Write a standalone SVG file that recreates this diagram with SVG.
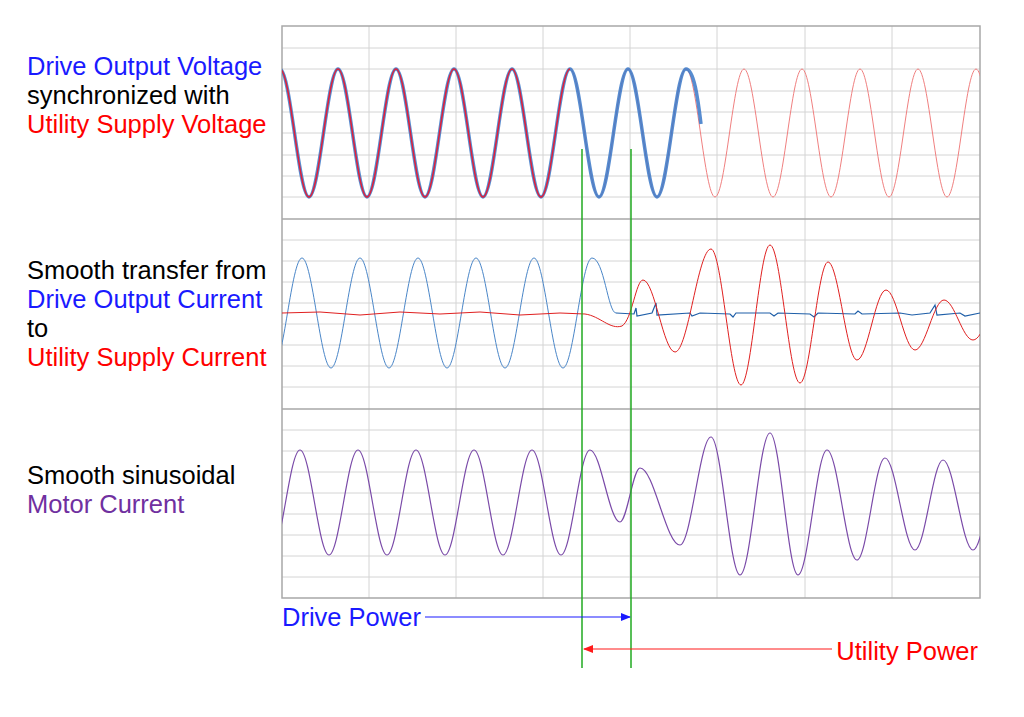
<svg xmlns="http://www.w3.org/2000/svg" width="1024" height="717" viewBox="0 0 1024 717">
<style>
.t{font-family:"Liberation Sans",Arial,sans-serif;font-size:25.5px}
.g{stroke:#d4d4d4;stroke-width:1;fill:none}
.b{stroke:#a8a8a8;stroke-width:1.5;fill:none}
</style>
<defs>
<clipPath id="c"><rect x="282" y="26" width="698" height="572"/></clipPath>
<marker id="ab" markerWidth="10" markerHeight="8" refX="9" refY="4" orient="auto" markerUnits="userSpaceOnUse"><path d="M0,0 L10,4 L0,8 z" fill="#1a1aff"/></marker>
<marker id="ar" markerWidth="10" markerHeight="8" refX="9" refY="4" orient="auto" markerUnits="userSpaceOnUse"><path d="M0,0 L10,4 L0,8 z" fill="#ff1a1a"/></marker>
</defs>
<rect width="1024" height="717" fill="#fff"/>
<g id="grid">
<path class="g" d="M369,26V598M456,26V598M543,26V598M630,26V598M717,26V598M805,26V598M892,26V598
M282,48H980M282,69H980M282,91H980M282,112H980M282,133H980M282,155H980M282,176H980M282,197H980
M282,240H980M282,261H980M282,282H980M282,303H980M282,324H980M282,345H980M282,366H980M282,387H980
M282,430H980M282,451H980M282,472H980M282,493H980M282,514H980M282,535H980M282,556H980M282,577H980"/>
<path class="b" d="M282,26H980V598H282Z M282,219H980 M282,409H980"/>
</g>
<g id="waves" clip-path="url(#c)" fill="none">
<path stroke="#f08080" stroke-width="1" d="M280,69 c10.4,0 18.6,128 29,128 s18.6,-128 29,-128 s18.6,128 29,128 s18.6,-128 29,-128 s18.6,128 29,128 s18.6,-128 29,-128 s18.6,128 29,128 s18.6,-128 29,-128 s18.6,128 29,128 s18.6,-128 29,-128 s18.6,128 29,128 s18.6,-128 29,-128 s18.6,128 29,128 s18.6,-128 29,-128 s18.6,128 29,128 s18.6,-128 29,-128 s18.6,128 29,128 s18.6,-128 29,-128 s18.6,128 29,128 s18.6,-128 29,-128 s18.6,128 29,128 s18.6,-128 29,-128 s18.6,128 29,128 s18.6,-128 29,-128 s18.6,128 29,128"/>
<path stroke="#3a78c8" stroke-width="3.5" stroke-opacity="0.85" d="M280,69 c10.4,0 18.6,128 29,128 s18.6,-128 29,-128 s18.6,128 29,128 s18.6,-128 29,-128 s18.6,128 29,128 s18.6,-128 29,-128 s18.6,128 29,128 s18.6,-128 29,-128 s18.6,128 29,128 s18.6,-128 29,-128 s18.6,128 29,128 s18.6,-128 29,-128 s18.6,128 29,128 s18.6,-128 29,-128 c8,0 12,30 15,55"/>
<path stroke="#e0203a" stroke-width="1.5" d="M280,69 c10.4,0 18.6,128 29,128 s18.6,-128 29,-128 s18.6,128 29,128 s18.6,-128 29,-128 s18.6,128 29,128 s18.6,-128 29,-128 s18.6,128 29,128 s18.6,-128 29,-128 s18.6,128 29,128 s18.6,-128 29,-128"/>
<path stroke="#4a86c8" stroke-width="1" d="M273,368 c10.4,0 18.6,-110 29,-110 s18.6,110 29,110 s18.6,-110 29,-110 s18.6,110 29,110 s18.6,-110 29,-110 s18.6,110 29,110 s18.6,-110 29,-110 s18.6,110 29,110 s18.6,-110 29,-110 s18.6,110 29,110 s18.6,-110 29,-110 C604,258 608,313 616,313"/>
<path stroke="#1f5fa8" stroke-width="1.2" d="M616,313 L634,314 L636,308 L637,316 L652,313 L656,303 L657,315 L690,313 L692,316 L700,313 L730,314 L733,317 L736,313 L770,313 L774,316 L778,313 L810,314 L814,317 L818,313 L855,314 L858,311 L862,314 L900,313 L912,315 L930,313 L935,305 L937,315 L960,313 L965,316 L980,313"/>
<path stroke="#e02020" stroke-width="1" d="M282,313 L320,312 L360,315 L400,312 L440,314 L480,312 L520,315 L560,313 L585,314 C600,316 610,330 622,326 C632,320 636,280 643,280 C654.5,280 663.5,352 675,352 C688,352 698,249 711,249 C721.8,249 730.2,385 741,385 C751.4,385 759.6,245 770,245 C780.8,245 789.2,383 800,383 C810,383 818,262 828,262 C838.4,262 846.6,360 857,360 C867.4,360 875.6,290 886,290 C896.4,290 904.6,350 915,350 C925.4,350 933.6,300 944,300 C954.4,300 962.6,340 973,340 C983.4,340 991.6,300 1002,300"/>
<path stroke="#7a4aa8" stroke-width="1.2" d="M271,555 c10.4,0 18.6,-105 29,-105 s18.6,105 29,105 s18.6,-105 29,-105 s18.6,105 29,105 s18.6,-105 29,-105 s18.6,105 29,105 s18.6,-105 29,-105 s18.6,105 29,105 s18.6,-105 29,-105 s18.6,105 29,105 s18.6,-105 29,-105 C600.8,450 609.2,522 620,522 C627,522 633,468 640,468 C654,468 666,545 680,545 C691,545 700,437 711,437 C721.4,437 729.6,575 740,575 C750.8,575 759.2,433 770,433 C780,433 788,575 798,575 C808.4,575 816.6,450 827,450 C837.8,450 846.2,560 857,560 C867,560 875,458 885,458 C895.8,458 904.2,550 915,550 C925,550 933,460 943,460 C953.8,460 962.2,550 973,550 C983.4,550 991.6,460 1002,460"/>
</g>
<g id="markers">
<path d="M582,149V668M631,149V668" stroke="#22aa22" stroke-width="1.5"/>
</g>
<g id="connectors" fill="none">
<path d="M425,617H630" stroke="#1a1aff" stroke-width="1.2" marker-end="url(#ab)"/>
<path d="M832,649H584" stroke="#ff1a1a" stroke-width="1.2" marker-end="url(#ar)"/>
</g>
<g id="labels" class="t">
<text x="27" y="75" fill="#1a1aff">Drive Output Voltage</text>
<text x="27" y="104" fill="#000">synchronized with</text>
<text x="27" y="133" fill="#ff0000">Utility Supply Voltage</text>
<text x="27" y="279" fill="#000">Smooth transfer from</text>
<text x="27" y="308" fill="#1a1aff">Drive Output Current</text>
<text x="27" y="337" fill="#000">to</text>
<text x="27" y="366" fill="#ff0000">Utility Supply Current</text>
<text x="27" y="484" fill="#000">Smooth sinusoidal</text>
<text x="27" y="513" fill="#7030a0">Motor Current</text>
<text x="282" y="626" fill="#1a1aff">Drive Power</text>
<text x="978" y="660" fill="#ff0000" text-anchor="end">Utility Power</text>
</g>
</svg>
